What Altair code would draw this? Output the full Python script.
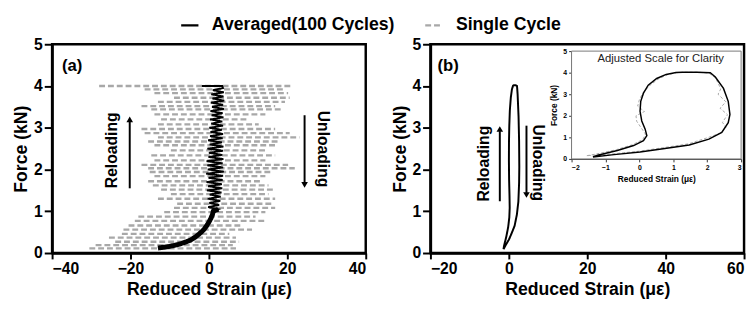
import altair as alt
import pandas as pd

FONT = "Liberation Sans"
AVG = "Averaged(100 Cycles)"
SINGLE = "Single Cycle"

# ---------------- data ----------------
# Panel (a): single cycle, horizontal dashed rows (force level, left / right strain)
row_force = [4.00, 3.92, 3.83, 3.72, 3.62, 3.52, 3.44, 3.32, 3.20, 3.08, 2.97, 2.87, 2.77,
             2.67, 2.58, 2.46, 2.34, 2.22, 2.11, 2.03, 1.94, 1.84, 1.72, 1.62, 1.52, 1.41,
             1.30, 1.18, 1.08, 0.98, 0.87, 0.77, 0.66, 0.56, 0.46, 0.37, 0.27, 0.19, 0.11]
row_left = [-28.0, -16.4, -13.9, -8.9, -13.0, -17.2, -14.7, -13.9, -12.2, -13.0, -17.2, -16.4, -13.0,
            -15.5, -13.9, -9.7, -14.7, -13.9, -17.2, -15.5, -15.1, -13.9, -15.5, -14.3, -12.2, -9.7,
            -13.0, -8.1, -8.9, -11.4, -18.0, -18.9, -20.5, -21.8, -22.2, -25.5, -23.9, -28.9, -30.5]
row_right = [21.0, 19.4, 20.2, 20.6, 19.4, 16.9, 18.5, 14.4, 10.2, 12.7, 16.9, 20.6, 23.1,
             17.7, 16.9, 14.4, 16.9, 14.4, 20.2, 21.9, 16.0, 14.4, 13.5, 15.2, 16.9, 15.2,
             16.9, 16.0, 16.9, 14.4, 11.9, 14.8, 8.6, 11.0, 5.2, 6.9, 7.7, 6.1, 6.9]

# Panel (a): averaged curve
avg_a_strain = [-13.0, -10.5, -8.0, -6.0, -4.5, -3.2, -2.2, -1.3, -0.6, 0.0, 0.5, 0.9, 1.1,
                2.4, -0.2, 2.6, 0.1, 2.9, -0.3, 3.0, 0.2, 3.2, -0.5, 3.4, -0.2, 3.3, -0.6, 3.5, -0.1,
                3.6, -0.7, 3.8, -0.3, 3.6, -0.4, 3.5, -0.6, 3.7, -0.1, 3.4, 0.0, 3.6, -0.4, 3.7, 0.2,
                3.3, -0.2, 3.5, 0.3, 3.6, 0.4, 3.3, 0.1, 3.6, 0.6, 3.4, 0.3, 3.7, 0.7, 3.5, 0.4,
                3.8, 0.8, 3.6, 0.5, 3.9, 0.9, 3.7, 0.6, 3.8, 1.0, 3.6, 3.4, -1.8]
avg_a_force = [0.12, 0.15, 0.20, 0.26, 0.32, 0.40, 0.48, 0.56, 0.65, 0.74, 0.83, 0.92, 1.00,
               1.05, 1.10, 1.15, 1.20, 1.25, 1.30, 1.35, 1.40, 1.45, 1.50, 1.55, 1.60, 1.65, 1.70, 1.75, 1.80,
               1.85, 1.90, 1.95, 2.00, 2.05, 2.10, 2.15, 2.20, 2.25, 2.30, 2.35, 2.40, 2.45, 2.50, 2.55, 2.60,
               2.65, 2.70, 2.75, 2.80, 2.85, 2.90, 2.95, 3.00, 3.05, 3.10, 3.15, 3.20, 3.25, 3.30, 3.35, 3.40,
               3.45, 3.50, 3.55, 3.60, 3.65, 3.70, 3.75, 3.80, 3.85, 3.90, 3.95, 4.00, 4.00]

# Panel (b) / inset: averaged loop
loop_strain = [-1.37, -1.23, -0.65, -0.17, 0.12, 0.22, 0.17, 0.07, 0.02, 0.04, 0.12, 0.26, 0.51, 0.79,
               1.08, 1.27, 1.70, 2.09, 2.24, 2.48, 2.62, 2.67, 2.62, 2.43, 2.05, 1.47, 0.70, 0.02, -0.75, -1.37]
loop_force = [0.09, 0.17, 0.39, 0.62, 0.85, 1.08, 1.38, 1.76, 2.21, 2.67, 3.05, 3.42, 3.73, 3.92,
              4.01, 4.02, 4.02, 4.00, 3.80, 3.27, 2.67, 2.06, 1.68, 1.23, 0.92, 0.65, 0.47, 0.32, 0.20, 0.09]
# Inset: single cycle
single_strain = [-1.55, -1.30, -0.70, -0.20, 0.10, 0.18, 0.05, -0.08, -0.10, 0.15, -0.05, 0.00, 0.10, 0.30,
                 0.55, 0.82, 1.10, 1.30, 1.75, 2.05, 2.25, 2.40, 2.32, 2.55, 2.38, 2.60, 2.45, 2.55, 2.40,
                 2.00, 1.45, 0.70, 0.00, -0.75, -1.55]
single_force = [0.15, 0.22, 0.42, 0.66, 0.90, 1.15, 1.45, 1.75, 2.00, 2.20, 2.45, 2.75, 3.05, 3.40,
                3.70, 3.90, 4.00, 4.02, 4.02, 3.98, 3.75, 3.25, 3.00, 2.65, 2.35, 2.05, 1.70, 1.45, 1.20,
                0.98, 0.70, 0.52, 0.36, 0.24, 0.15]

x_ticks_a = [-40, -20, 0, 20, 40]
x_ticks_b = [-20, 0, 20, 40, 60]
y_ticks = [0, 1, 2, 3, 4, 5]
inset_x_ticks = [-2, -1, 0, 1, 2, 3]

W, H = 320, 213
INSET_X = [144, 317]
INSET_Y = [117, 7]

color_scale = alt.Scale(domain=[AVG, SINGLE], range=["#000000", "#a8a8a8"])
dash_scale = alt.Scale(domain=[AVG, SINGLE], range=[[1, 0], [6, 3]])
legend = alt.Legend(title=None, orient="none", legendX=130, legendY=-30, direction="horizontal",
                    symbolType="stroke", symbolStrokeWidth=2.5, symbolSize=310,
                    columnPadding=25, labelOffset=12, labelLimit=0)

color_enc = alt.Color("series:N", scale=color_scale, legend=legend)
dash_enc = alt.StrokeDash("series:N", scale=dash_scale, legend=legend)

def txt(df, **kw):
    return alt.Chart(df).mark_text(font=FONT, fontWeight="bold", color="black", **kw)

def y_axis():
    return alt.Axis(values=y_ticks, title="Force (kN)", format="d", tickSize=8,
                    labelPadding=2, titlePadding=3)

# ---------------- panel (a) ----------------
rows_df = pd.DataFrame({"force": row_force, "left": row_left, "right": row_right, "series": SINGLE})
avg_a_df = pd.DataFrame({"strain": avg_a_strain, "force": avg_a_force, "series": AVG,
                         "idx": list(range(len(avg_a_force)))})

xa = alt.X("left:Q", scale=alt.Scale(domain=[-40, 40], nice=False),
           axis=alt.Axis(values=x_ticks_a, title="Reduced Strain (με)", format="d"))
ya = alt.Y("force:Q", scale=alt.Scale(domain=[0, 5], nice=False), axis=y_axis())

rows = alt.Chart(rows_df).mark_rule(strokeWidth=2.4).encode(
    x=xa, x2="right:Q", y=ya, color=color_enc, strokeDash=dash_enc)
avg_a = alt.Chart(avg_a_df).mark_line(strokeWidth=1.9).encode(
    x="strain:Q", y="force:Q", order="idx:Q", color=color_enc, strokeDash=dash_enc)
# lower part of the averaged curve: loading and unloading branches overlap -> heavier band
avg_a_low = alt.Chart(avg_a_df).transform_filter("datum.force <= 1.05").mark_line(strokeWidth=5).encode(
    x="strain:Q", y="force:Q", order="idx:Q", color=color_enc, strokeDash=dash_enc)

lab_a = txt(pd.DataFrame({"x": [-37.5], "y": [4.48], "t": ["(a)"]}), fontSize=17, align="left",
            baseline="middle").encode(x="x:Q", y="y:Q", text="t:N")
rel_a = txt(pd.DataFrame({"x": [-24.7], "y": [2.46], "t": ["Reloading"]}), fontSize=16, angle=270,
            baseline="middle").encode(x="x:Q", y="y:Q", text="t:N")
unl_a = txt(pd.DataFrame({"x": [29.0], "y": [2.49], "t": ["Unloading"]}), fontSize=16, angle=90,
            baseline="middle").encode(x="x:Q", y="y:Q", text="t:N")
arr_a_df = pd.DataFrame({"x": [-20.2, 24.4], "y1": [1.55, 3.30], "y2": [3.15, 1.68]})
arr_a = alt.Chart(arr_a_df).mark_rule(color="black", strokeWidth=2).encode(x="x:Q", y="y1:Q", y2="y2:Q")
head_a = alt.Chart(pd.DataFrame({"x": [-20.2, 24.4], "y": [3.2, 1.63], "s": ["triangle-up", "triangle-down"]})).mark_point(
    filled=True, color="black", size=45, opacity=1).encode(
    x="x:Q", y="y:Q", shape=alt.Shape("s:N", scale=None))

panel_a = alt.layer(rows, avg_a_low, avg_a, lab_a, rel_a, unl_a, arr_a, head_a).properties(width=W, height=H)

# ---------------- panel (b) ----------------
loop_df = pd.DataFrame({"strain": loop_strain, "force": loop_force, "series": AVG,
                        "idx": list(range(len(loop_force)))})
single_df = pd.DataFrame({"strain": single_strain, "force": single_force, "series": SINGLE,
                          "idx": list(range(len(single_force)))})

xb = alt.X("strain:Q", scale=alt.Scale(domain=[-20, 60], nice=False),
           axis=alt.Axis(values=x_ticks_b, title="Reduced Strain (με)", format="d"))
yb = alt.Y("force:Q", scale=alt.Scale(domain=[0, 5], nice=False), axis=y_axis())
loop_b = alt.Chart(loop_df).mark_line(strokeWidth=2).encode(
    x=xb, y=yb, order="idx:Q", color=color_enc, strokeDash=dash_enc)
lab_b = txt(pd.DataFrame({"strain": [-18.2], "force": [4.48], "t": ["(b)"]}), fontSize=17, align="left",
            baseline="middle").encode(x="strain:Q", y="force:Q", text="t:N")
rel_b = txt(pd.DataFrame({"strain": [-6.3], "force": [2.14], "t": ["Reloading"]}), fontSize=16, angle=270,
            baseline="middle").encode(x="strain:Q", y="force:Q", text="t:N")
unl_b = txt(pd.DataFrame({"strain": [7.3], "force": [2.16], "t": ["Unloading"]}), fontSize=16, angle=90,
            baseline="middle").encode(x="strain:Q", y="force:Q", text="t:N")
arr_b_df = pd.DataFrame({"strain": [-2.3, 4.5], "y1": [1.24, 3.05], "y2": [2.92, 1.44]})
arr_b = alt.Chart(arr_b_df).mark_rule(color="black", strokeWidth=2).encode(x="strain:Q", y="y1:Q", y2="y2:Q")
head_b = alt.Chart(pd.DataFrame({"strain": [-2.3, 4.5], "force": [2.97, 1.39], "s": ["triangle-up", "triangle-down"]})).mark_point(
    filled=True, color="black", size=45, opacity=1).encode(
    x="strain:Q", y="force:Q", shape=alt.Shape("s:N", scale=None))
main_b = alt.layer(loop_b, lab_b, rel_b, unl_b, arr_b, head_b)

# inset
xi = alt.X("x1:Q", scale=alt.Scale(domain=[-2, 3], nice=False, range=INSET_X),
           axis=alt.Axis(values=inset_x_ticks, orient="bottom", offset=-(H - INSET_Y[0]),
                         title="Reduced Strain (με)", format="d", labelFontSize=7, titleFontSize=8.5,
                         tickSize=3, tickWidth=1, domainWidth=1, domainColor="#333", tickColor="#333",
                         labelPadding=2, titlePadding=4))
yi = alt.Y("y1:Q", scale=alt.Scale(domain=[0, 5], nice=False, range=INSET_Y),
           axis=alt.Axis(values=y_ticks, orient="left", offset=-INSET_X[0],
                         title="Force (kN)", format="d", labelFontSize=7, titleFontSize=8.5,
                         tickSize=3, tickWidth=1, domainWidth=1, domainColor="#333", tickColor="#333",
                         labelPadding=2, titlePadding=4))
frame = alt.Chart(pd.DataFrame({"x1": [-2], "x2": [3], "y1": [0], "y2": [5]})).mark_rect(
    fill="white", stroke="#777", strokeWidth=1).encode(x=xi, x2="x2:Q", y=yi, y2="y2:Q")
ins_single = alt.Chart(single_df).mark_line(strokeWidth=1, strokeDash=[3, 2]).encode(
    x="strain:Q", y="force:Q", order="idx:Q", color=color_enc)
ins_avg = alt.Chart(loop_df).mark_line(strokeWidth=1.5).encode(
    x="strain:Q", y="force:Q", order="idx:Q", color=color_enc)
ins_title = alt.Chart(pd.DataFrame({"strain": [0.63], "force": [4.64], "t": ["Adjusted Scale for Clarity"]})).mark_text(
    font=FONT, fontSize=11.5, color="#222", baseline="middle").encode(x="strain:Q", y="force:Q", text="t:N")
inset = alt.layer(frame, ins_single, ins_avg, ins_title)

panel_b = alt.layer(main_b, inset).resolve_scale(x="independent", y="independent").properties(width=W, height=H)

chart = alt.hconcat(panel_a, panel_b, spacing=21).properties(
    padding={"left": 3, "top": 4, "right": 0, "bottom": 0}
).configure_view(stroke="black", strokeWidth=2.5).configure_axis(
    grid=False, domainColor="black", domainWidth=2.5, tickColor="black", tickWidth=2, tickSize=6,
    labelFont=FONT, labelFontWeight="bold", labelFontSize=16, labelColor="black",
    titleFont=FONT, titleFontWeight="bold", titleFontSize=18, titleColor="black"
).configure_legend(labelFont=FONT, labelFontWeight="bold", labelFontSize=18, labelColor="black")

chart.save("out.html", embed_options={"renderer": "svg", "actions": False})
